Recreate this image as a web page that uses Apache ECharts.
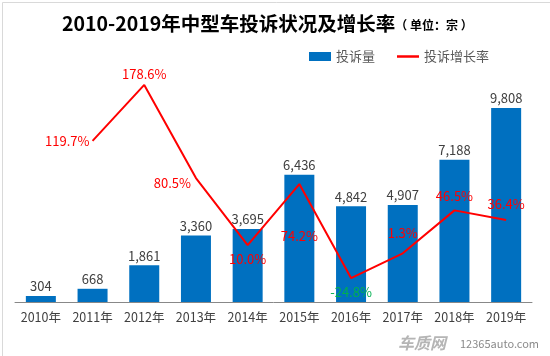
<!DOCTYPE html>
<html><head><meta charset="utf-8">
<script src="https://cdn.jsdelivr.net/npm/echarts@6/dist/echarts.min.js"></script>
<style>html,body{margin:0;padding:0;background:#fff}#c{width:550px;height:356px}</style>
</head><body><div id="c"></div>
<script>
var categories = ['2010年','2011年','2012年','2013年','2014年','2015年','2016年','2017年','2018年','2019年'];
var complaints = [304, 668, 1861, 3360, 3695, 6436, 4842, 4907, 7188, 9808];
var growth = [null, 119.7, 178.6, 80.5, 10.0, 74.2, -24.8, 1.3, 46.5, 36.4];

var FONT = '"Noto Sans CJK SC", "Noto Sans", sans-serif';
var labelCfg = [
  null,
  {position:'left', distance:3},
  {position:'top', distance:4},
  {position:'left', distance:5, offset:[0,5]},
  {position:'bottom', distance:8},
  {position:'bottom', distance:46},
  {position:'bottom', distance:7, color:'#00B050'},
  {position:'top', distance:14},
  {position:'top', distance:8},
  {position:'top', distance:9}
];
var lineData = growth.map(function(v, i){
  var item = {value: v};
  if (labelCfg[i]) item.label = labelCfg[i];
  return item;
});

var chart = echarts.init(document.getElementById('c'));
chart.setOption({
  backgroundColor: '#fff',
  animation: false,
  title: {
    left: 57, top: 9,
    text: '{a|2010-2019年中型车投诉状况及增长率}{b|（ 单位：宗 ）}',
    textStyle: {
      rich: {
        a: {fontSize: 19.5, fontWeight: 'bold', color: '#000', fontFamily: FONT},
        b: {fontSize: 12, color: '#000', fontFamily: FONT, padding:[3,0,0,0]}
      }
    }
  },
  legend: {
    right: 56, top: 45,
    itemGap: 22, itemWidth: 22, itemHeight: 9,
    textStyle: {fontSize: 13, color: '#595959', fontFamily: FONT},
    data: [
      {name:'投诉量', icon:'rect'},
      {name:'投诉增长率', icon:'path://M0,0H22V2.5H0Z'}
    ]
  },
  grid: {left: 15, right: 18, top: 64.6, bottom: 54},
  xAxis: {
    type: 'category', data: categories,
    axisTick: {show: false},
    axisLine: {lineStyle: {color: '#888', width: 1}},
    axisLabel: {fontSize: 12.5, color: '#404040', fontFamily: FONT, margin: 9, interval: 0}
  },
  yAxis: [
    {type: 'value', min: 0, max: 12000, show: false, splitLine: {show:false}},
    {type: 'value', min: -50, max: 200, show: false, splitLine: {show:false}}
  ],
  series: [
    {
      name: '投诉量', type: 'bar', data: complaints, barWidth: 30,
      itemStyle: {color: '#0070C0'},
      label: {
        show: true, position: 'top', distance: 3,
        fontSize: 13, color: '#404040', fontFamily: FONT,
        formatter: function(p){ return p.value.toLocaleString('en-US'); }
      }
    },
    {
      name: '投诉增长率', type: 'line', yAxisIndex: 1, data: lineData,
      symbol: 'circle', symbolSize: 0, showSymbol: true, connectNulls: false,
      lineStyle: {color: '#FF0000', width: 2},
      itemStyle: {color: '#FF0000'},
      label: {
        show: true, fontSize: 13, color: '#FF0000', fontFamily: FONT,
        formatter: function(p){ return p.value == null ? '' : p.value.toFixed(1) + '%'; }
      }
    }
  ],
  graphic: [
    {type:'rect', left:0, top:0, shape:{width:549, height:355}, style:{fill:'none', stroke:'#d9d9d9', lineWidth:1}, silent:true},
    {type:'text', left:398, top:335, style:{text:'车质网', fontSize:16, fontWeight:'bold', fontStyle:'italic', fill:'#b5b5b5', fontFamily: FONT}},
    {type:'text', left:460, top:338, style:{text:'12365auto.com', fontSize:11, fill:'#8a8a8a', fontFamily: FONT}}
  ]
});
</script></body></html>
